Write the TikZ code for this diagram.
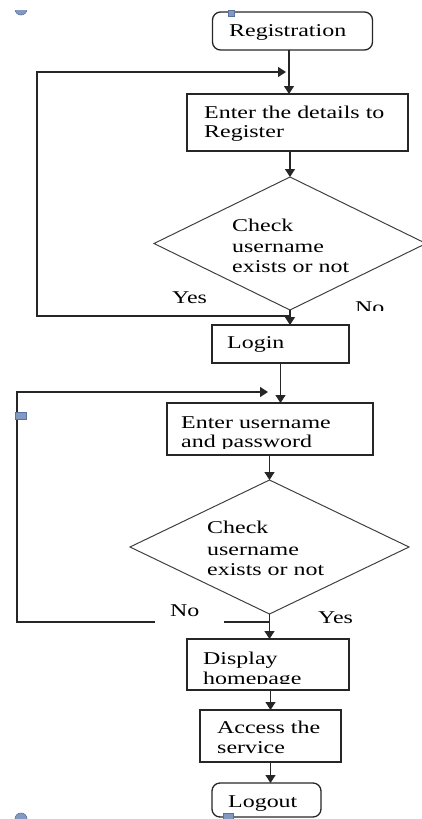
\documentclass[tikz,border=0pt]{standalone}
\usepackage{fontspec}
\setmainfont{Liberation Serif}[FakeStretch=1.33]
\usetikzlibrary{shapes.geometric,arrows.meta}
\definecolor{hfill}{HTML}{8499C2}
\definecolor{hdraw}{HTML}{5B729E}
\begin{document}
\begin{tikzpicture}[x=1pt,y=-1pt,
  box/.style={draw=black!85, line width=1.3pt, inner sep=0pt, outer sep=0pt},
  rbox/.style={box, rounded corners=8pt},
  dia/.style={diamond, draw=black!75, line width=1pt, inner sep=0pt, outer sep=0pt},
  txt/.style={anchor=base west, inner sep=0pt, font=\fontsize{18}{20.5}\selectfont},
  ln/.style={draw=black!85, line width=1.3pt},
  arr/.style={ln, -{Triangle[length=8pt,width=10pt]}},
  handle/.style={rectangle, fill=hfill, draw=hdraw, line width=0.6pt, inner sep=0pt}
]
\useasboundingbox (0,0) rectangle (422,819);
\clip (0,0) rectangle (422,819);

% boxes
\node[rbox, minimum width=160pt, minimum height=38pt] (reg) at (292.5,31) {};
\node[box, minimum width=221pt, minimum height=57pt] (det) at (297.5,122.5) {};
\node[dia, minimum width=272pt, minimum height=133pt] (d1) at (290,243.5) {};
\node[box, minimum width=137pt, minimum height=38pt] (login) at (280.5,344) {};
\node[box, minimum width=206pt, minimum height=52pt] (user) at (270,429) {};
\node[dia, minimum width=279pt, minimum height=134pt] (d2) at (269.5,547) {};
\node[box, minimum width=162pt, minimum height=51pt] (disp) at (268,664.5) {};
\node[box, minimum width=141pt, minimum height=52pt] (acc) at (270.5,736) {};
\node[rbox, minimum width=109pt, minimum height=34pt] (logout) at (266.5,800) {};

% texts
\node[txt] (regt) at (229,36) {Registration};
\node[txt] (dett1) at (204,118) {Enter the details to};
\node[txt] (dett2) at (204,137) {Register};
\node[txt] (d1t1) at (232,231) {Check};
\node[txt] (d1t2) at (232,252) {username};
\node[txt] (d1t3) at (232,272) {exists or not};
\node[txt] (yes1) at (172,303) {Yes};
\begin{scope}
  \clip (340,290) rectangle (400,310);
  \node[txt] (no1) at (355,313) {No};
\end{scope}
\node[txt] (logint) at (227,348) {Login};
\node[txt] (usert1) at (181,428) {Enter username};
\begin{scope}
  \clip (170,430) rectangle (370,448.5);
  \node[txt] (usert2) at (181,447) {and password};
\end{scope}
\node[txt] (d2t1) at (207,533) {Check};
\node[txt] (d2t2) at (207,555) {username};
\node[txt] (d2t3) at (207,575) {exists or not};
\node[txt] (yes2) at (318,623) {Yes};
\node[txt] (dispt1) at (203,664) {Display};
\begin{scope}
  \clip (190,666) rectangle (345,683);
  \node[txt] (dispt2) at (203,684.5) {homepage};
\end{scope}
\node[txt] (acct1) at (217,733) {Access the};
\node[txt] (acct2) at (217,753) {service};
\node[txt] (logoutt) at (228,807) {Logout};

% connectors
\coordinate (c1a) at (37,316);
\coordinate (c1b) at (37,72);
\coordinate (c1c) at (286,72);
\coordinate (c2a) at (17,622);
\coordinate (c2b) at (17,392);
\coordinate (c2c) at (268,392);

\draw[arr] ([xshift=-3.5pt]reg.south) -- ([xshift=-3.5pt]reg.south |- det.north);
\draw[arr] (det.south -| d1.north) -- (d1.north);
\draw[arr] (d1.south |- c1a) -- (c1a) -- (c1b) -- (c1c);
\draw[arr] (d1.south) -- (d1.south |- login.north);
\draw[arr] (login.south) -- (login.south |- user.north);
\draw[arr] (user.south -| d2.north) -- (d2.north);
\draw[arr] (d2.south |- c2a) -- (c2a) -- (c2b) -- (c2c);
\draw[arr] (d2.south) -- (d2.south |- disp.north);
\draw[arr] (acc.north |- disp.south) -- (acc.north);
\draw[arr] (acc.south) -- (acc.south |- logout.north);

\node[txt, fill=white, text width=69pt, align=left, inner ysep=8pt] (no2) at (155,616) {\hspace*{15pt}No};

% selection handles
\node[handle, minimum width=6pt, minimum height=6pt] (h1) at (231,13) {};
\node[handle, minimum width=11pt, minimum height=7pt] (h2) at (20.5,415.5) {};
\node[handle, minimum width=10pt, minimum height=6pt] (h3) at (228,816) {};
\begin{scope}
  \clip (0,10) rectangle (40,20);
  \node[handle, circle, minimum size=12pt] (h4) at (21,9) {};
\end{scope}
\node[handle, circle, minimum size=12pt] (h5) at (21,819) {};
\end{tikzpicture}
\end{document}
